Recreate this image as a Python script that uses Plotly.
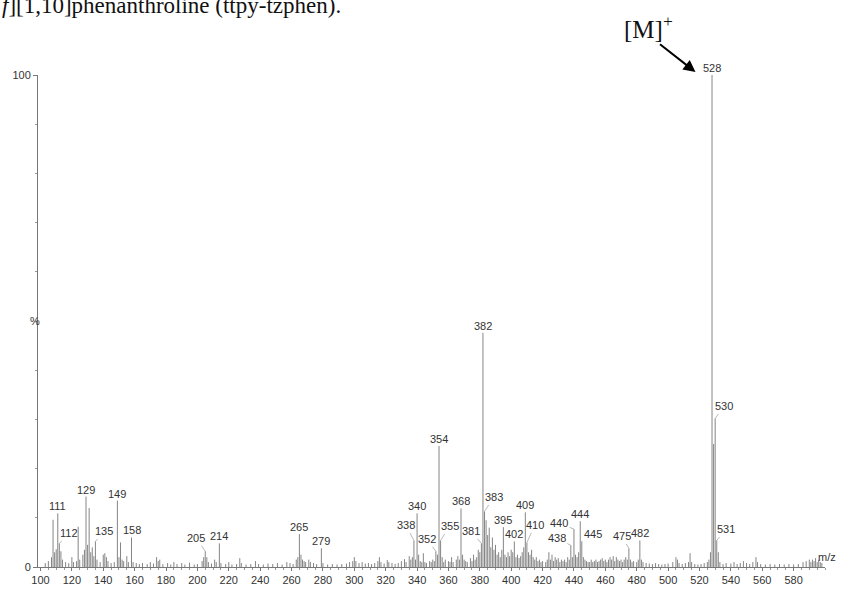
import plotly.graph_objects as go

# ---- data (m/z, relative intensity %) ----
mz = [103, 105, 107, 108, 109, 110, 111, 112, 113, 114, 116, 118, 120, 121, 123, 124, 125, 127, 128, 129,
      130, 131, 132, 133, 134, 135, 136, 138, 140, 141, 142, 143, 145, 147, 149, 150, 151, 152, 153, 155,
      156, 158, 159, 161, 163, 165, 168, 170, 172, 174, 175, 176, 178, 181, 183, 185, 187, 190, 192, 195,
      198, 200, 203, 204, 205, 206, 207, 209, 211, 212, 214, 215, 218, 220, 222, 225, 227, 228, 231, 234,
      237, 239, 242, 245, 248, 251, 254, 257, 259, 261, 263, 264, 265, 266, 267, 268, 269, 271, 272, 274,
      276, 279, 280, 283, 286, 289, 292, 295, 297, 299, 300, 301, 303, 305, 307, 309, 311, 313, 315, 316,
      317, 319, 321, 322, 324, 326, 328, 330, 332, 333, 335, 336, 337, 338, 339, 340, 341, 342, 343, 344,
      345, 346, 348, 349, 350, 351, 352, 353, 354, 355, 356, 357, 358, 360, 361, 362, 363, 365, 366, 367,
      368, 369, 370, 371, 372, 374, 375, 376, 377, 378, 379, 380, 381, 382, 383, 384, 385, 386, 387, 388,
      389, 390, 391, 392, 393, 394, 395, 396, 397, 398, 399, 400, 401, 402, 403, 404, 405, 406, 407, 408,
      409, 410, 411, 412, 413, 414, 415, 416, 417, 418, 419, 420, 422, 423, 424, 425, 426, 427, 428, 429,
      430, 431, 432, 433, 434, 435, 436, 437, 438, 439, 440, 441, 442, 443, 444, 445, 446, 447, 448, 449,
      450, 451, 452, 453, 454, 455, 456, 457, 458, 459, 460, 461, 462, 463, 464, 465, 466, 467, 468, 469,
      470, 471, 472, 473, 474, 475, 476, 477, 478, 480, 481, 482, 483, 484, 486, 488, 490, 492, 494, 496,
      498, 500, 503, 505, 506, 507, 509, 511, 513, 514, 515, 517, 519, 521, 523, 525, 526, 527, 528, 529,
      530, 531, 532, 533, 535, 537, 540, 542, 544, 546, 548, 550, 552, 554, 556, 557, 559, 562, 565, 568,
      571, 574, 577, 580, 583, 586, 588, 590, 591, 592, 593, 594, 595, 596, 597, 598]
intensity = [0.8, 1.2, 2.0, 9.6, 3.0, 3.6, 10.9, 4.8, 3.2, 1.5, 1.0, 0.8, 2.0, 1.0, 1.2, 8.2, 1.5, 2.5, 3.5, 14.3,
             4.5, 12.0, 3.0, 4.0, 2.2, 5.2, 1.5, 1.0, 2.5, 2.8, 2.0, 1.2, 0.8, 1.0, 13.5, 2.0, 5.0, 1.5, 1.2, 2.2,
             1.0, 6.0, 1.0, 0.8, 0.6, 0.8, 0.6, 1.0, 0.7, 2.0, 1.2, 1.5, 0.6, 0.8, 0.5, 1.0, 0.6, 0.8, 0.5, 0.9,
             0.5, 0.6, 1.2, 2.0, 3.2, 2.0, 1.0, 0.7, 1.5, 1.0, 4.8, 0.8, 0.6, 1.0, 0.5, 0.6, 1.8, 0.8, 0.5, 0.6,
             1.2, 0.6, 0.5, 0.7, 0.6, 0.8, 0.5, 1.0, 0.8, 0.6, 1.5, 2.0, 6.7, 2.5, 1.5, 1.2, 1.0, 1.5, 1.0, 0.8,
             0.6, 3.8, 0.8, 0.5, 0.6, 0.5, 0.6, 0.7, 1.0, 1.2, 2.0, 1.2, 0.8, 1.0, 0.7, 0.8, 0.6, 0.8, 1.2, 2.0,
             1.0, 0.7, 1.4, 1.0, 0.8, 0.6, 0.8, 1.2, 1.6, 1.0, 2.2, 1.5, 2.0, 5.4, 1.5, 10.9, 2.5, 1.2, 1.0, 2.8,
             1.0, 0.8, 1.2, 1.0, 1.5, 1.2, 3.2, 2.5, 24.6, 5.4, 2.0, 1.0, 1.5, 1.2, 1.0, 2.0, 1.0, 1.5, 2.2, 1.5,
             11.9, 2.5, 1.5, 1.2, 1.0, 1.8, 1.2, 2.5, 1.5, 2.0, 3.5, 3.0, 4.8, 47.6, 11.3, 9.5, 6.5, 8.0, 4.0, 6.0,
             3.5, 4.5, 2.5, 3.0, 2.0, 3.5, 8.1, 2.5, 2.0, 3.0, 2.2, 3.5, 3.0, 5.2, 2.0, 2.5, 1.8, 2.2, 3.0, 4.0,
             11.1, 5.0, 3.0, 2.5, 3.5, 2.0, 1.5, 2.0, 1.2, 1.5, 1.0, 1.2, 1.0, 1.5, 3.0, 1.5, 2.5, 1.2, 2.0, 1.5,
             1.8, 1.0, 1.5, 1.2, 1.5, 1.0, 2.0, 1.5, 4.4, 2.0, 7.7, 2.5, 2.0, 3.0, 9.3, 5.2, 2.0, 1.5, 1.2, 1.0,
             1.0, 1.5, 1.0, 1.2, 1.5, 1.0, 1.2, 1.5, 1.8, 1.2, 1.5, 1.0, 1.5, 2.0, 1.5, 2.2, 1.2, 2.0, 1.5, 1.2,
             1.5, 1.0, 1.5, 2.0, 1.5, 3.8, 1.5, 1.0, 1.2, 1.0, 1.5, 5.4, 1.5, 1.0, 0.8, 0.7, 0.6, 0.8, 0.6, 0.5,
             0.6, 0.7, 1.0, 2.0, 1.5, 0.8, 0.6, 0.8, 1.0, 2.8, 1.0, 0.6, 0.5, 0.6, 0.8, 1.0, 1.5, 3.0, 100.0, 25.0,
             30.2, 5.4, 3.0, 1.0, 0.6, 0.8, 0.7, 1.0, 0.6, 0.8, 1.2, 0.8, 0.6, 1.0, 2.0, 1.0, 0.6, 0.5, 0.6, 0.5,
             0.6, 0.5, 0.6, 0.5, 0.6, 1.0, 1.2, 1.5, 1.0, 1.5, 1.2, 1.8, 1.0, 1.5, 1.0, 0.8]

labeled_mz = [111, 112, 129, 135, 149, 158, 205, 214, 265, 279, 338, 340, 352, 354, 355, 368, 381, 382,
              383, 395, 402, 409, 410, 438, 440, 444, 445, 475, 482, 528, 530, 531]

x_ticks = list(range(100, 600, 20))
title_text = "<i>f</i>][1,10]phenanthroline (ttpy-tzphen)."
ion_label = "[M]<sup>+</sup>"

# ---- styling (label leader offsets in px: label centre relative to peak top) ----
leader = {112: (10, -10), 135: (9, -10), 205: (-9, -13), 338: (-8, -15), 352: (-9, -12),
          355: (9, -14), 381: (-10, -12), 383: (9, -14), 410: (8, -17), 438: (-14, -7),
          440: (-15, -6), 445: (11, -7), 475: (-7, -12), 530: (9, -12), 531: (9, -11)}

L, R, T, B = 35, 24, 75, 19
W, H = 849, 598
PW, PH = W - L - R, H - T - B

def px(xp):
    return (xp - L) / PW

def py(yp):
    return (H - B - yp) / PH

# stick spectrum built from data
sx, sy = [], []
for m, v in zip(mz, intensity):
    sx += [m, m, None]
    sy += [0, v, None]

fig = go.Figure()
fig.add_trace(go.Scatter(x=sx, y=sy, mode="lines",
                         line=dict(color="#858585", width=1), hoverinfo="skip",
                         showlegend=False))

lab_font = dict(family="Liberation Sans, Arial", size=11, color="#333333")
ann = []
inten = dict(zip(mz, intensity))
for m in labeled_mz:
    v = inten[m]
    if m in leader:
        dx, dy = leader[m]
        ann.append(dict(x=m, y=v, xref="x", yref="y", text=str(m), showarrow=True,
                        arrowhead=0, arrowwidth=0.7, arrowcolor="#999999",
                        ax=dx, ay=dy, font=lab_font, standoff=0))
    else:
        ann.append(dict(x=m, y=v, xref="x", yref="y", text=str(m), showarrow=False,
                        yanchor="bottom", yshift=-1, font=lab_font))

# title fragment at top (partly cut off by the page edge, as in the reference)
ann.append(dict(x=px(-3), y=py(4), xref="paper", yref="paper", text=title_text,
                showarrow=False, xanchor="left", yanchor="middle",
                font=dict(family="Liberation Serif, Times New Roman", size=23, color="#111111")))
# [M]+ label and arrow
ann.append(dict(x=px(621), y=py(26), xref="paper", yref="paper", text=ion_label,
                showarrow=False, xanchor="left", yanchor="middle",
                font=dict(family="Liberation Serif, Times New Roman", size=25, color="#111111")))
ann.append(dict(x=px(695), y=py(72), xref="paper", yref="paper", text="",
                showarrow=True, arrowhead=2, arrowsize=1.2, arrowwidth=2, arrowcolor="#000000",
                ax=-37, ay=-29, axref="pixel", ayref="pixel"))
# axis titles
ann.append(dict(x=px(838), y=py(577), xref="paper", yref="paper", text="m/z",
                showarrow=False, font=lab_font))
ann.append(dict(x=px(25), y=py(327), xref="paper", yref="paper", text="%",
                showarrow=False, font=lab_font))

fig.update_layout(
    width=W, height=H,
    margin=dict(l=L, r=R, t=T, b=B),
    paper_bgcolor="white", plot_bgcolor="white",
    showlegend=False,
    annotations=ann,
    xaxis=dict(range=[98.4, 600], tickvals=x_ticks, ticktext=[str(t) for t in x_ticks],
               showline=True, linecolor="#777777", linewidth=1, ticks="outside", ticklen=3,
               tickcolor="#777777", showgrid=False, zeroline=False,
               tickfont=dict(family="Liberation Sans, Arial", size=11, color="#333333"),
               minor=dict(dtick=5, ticks="outside", ticklen=2, tickcolor="#999999")),
    yaxis=dict(range=[0, 100], tickvals=[0, 100], ticktext=["0", "100"],
               showline=True, linecolor="#777777", linewidth=1, ticks="outside", ticklen=4,
               tickcolor="#777777", showgrid=False, zeroline=False,
               tickfont=dict(family="Liberation Sans, Arial", size=11, color="#333333"),
               minor=dict(dtick=10, ticks="outside", ticklen=2, tickcolor="#999999")),
)

fig.write_html("out.html")
